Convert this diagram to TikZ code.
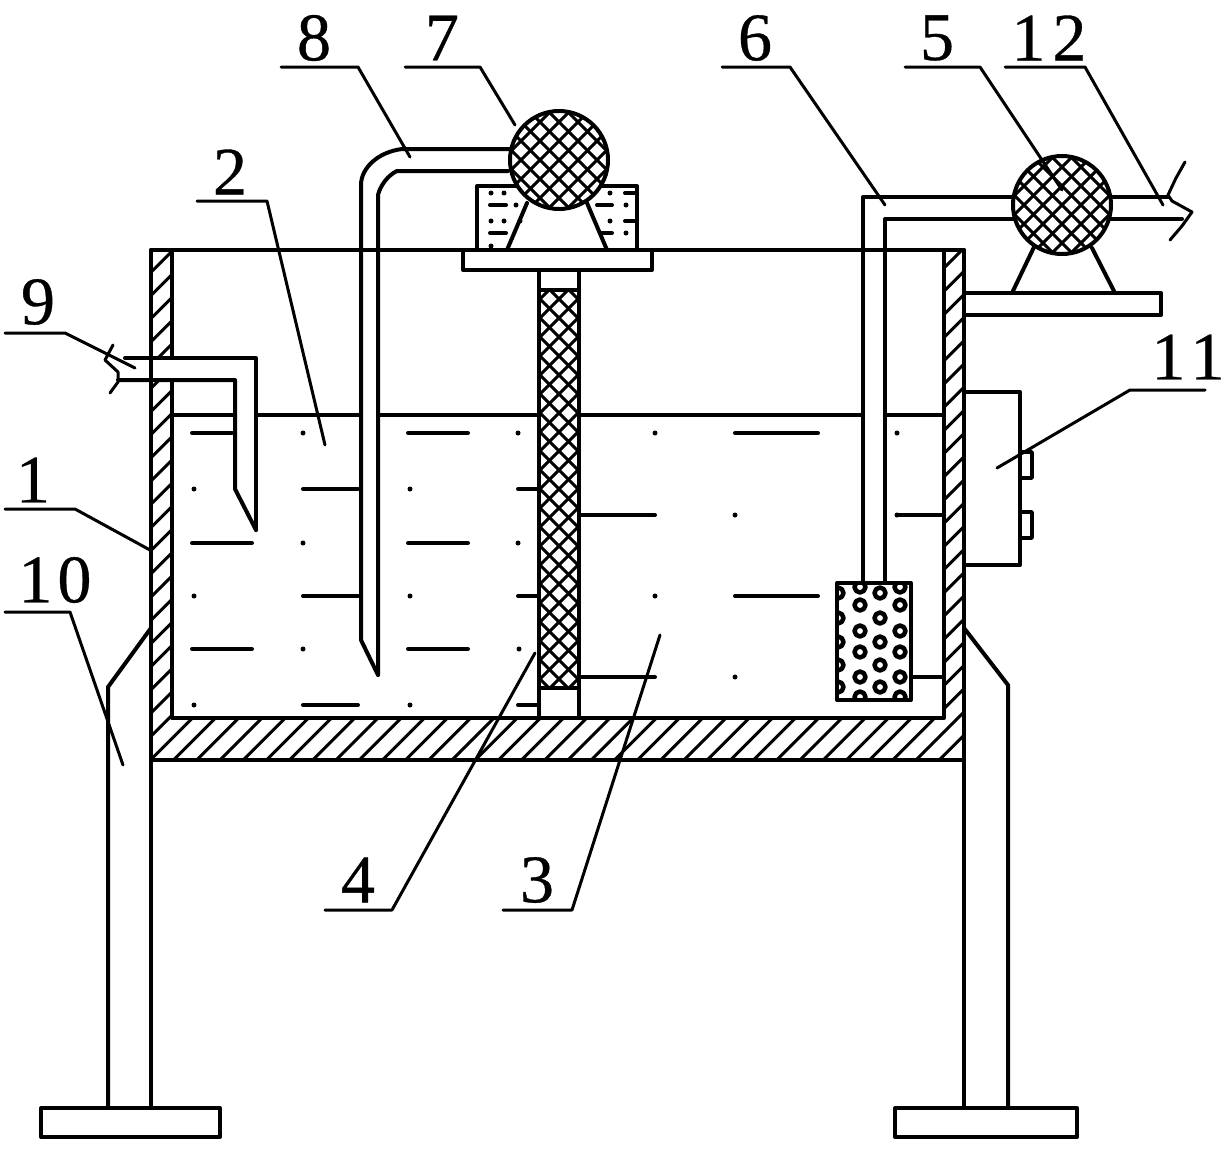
\documentclass[tikz,border=0pt]{standalone}
\usepackage{fontspec}
\setmainfont[FakeBold=0.5]{Liberation Serif}
\newcommand{\meshlines}[3]{%
  \begin{scope}[shift={(#1,#2)},line width=3pt]
    \pgfmathtruncatemacro\meshN{#3/9.5}
    \foreach \k in {-\meshN,...,\meshN}{
      \pgfmathsetmacro\meshC{\k*19}
      \draw ({\meshC-#3},#3) -- ({\meshC+#3},-#3);
      \draw ({\meshC-#3},-#3) -- ({\meshC+#3},#3);
    }
  \end{scope}}
\begin{document}
\begin{tikzpicture}[x=1pt,y=-1pt,line width=4pt,line cap=round,line join=round,
  num/.style={font=\fontsize{68}{68}\selectfont,inner sep=0pt},
  leader/.style={line width=3pt},
  wdash/.style={line width=4pt},
  wdot/.style={fill=black,draw=none},
  thin part/.style={line width=3.5pt}]
\useasboundingbox (0,0) rectangle (1227,1165);
\fill[white] (0,0) rectangle (1227,1165);

% hatched tank wall
\begin{scope}
  \clip (151,250) -- (172,250) -- (172,718) -- (944,718) -- (944,250) -- (964,250) -- (964,760) -- (151,760) -- cycle;
  \foreach \k in {0,...,90}{
    \pgfmathsetmacro\hc{400+\k*23.2}
    \draw[line width=3pt] (\hc,0) -- ({\hc-1165},1165);
  }
\end{scope}
\fill[white] (153,360) rectangle (175,378);

% tank
\draw (151,250) -- (964,250);
\draw (151,250) -- (151,760) -- (964,760) -- (964,250);
\draw (172,250) -- (172,358);
\draw (172,380) -- (172,718) -- (944,718) -- (944,250);

% water line
\draw[line width=3.5pt] (172,415) -- (235,415);
\draw[line width=3.5pt] (257,415) -- (361,415);
\draw[line width=3.5pt] (378,415) -- (539,415);
\draw[line width=3.5pt] (579,415) -- (863,415);
\draw[line width=3.5pt] (885,415) -- (944,415);

% water dashes
\foreach \a/\b/\y in {192/232/433,408/468/433,735/818/433,
  303/358/489,518/538/489,581/655/515,897/944/515,
  192/252/543,408/468/543,303/358/596,518/538/596,735/818/596,
  192/252/649,408/468/649,581/655/677,912/944/677,
  303/358/705,518/538/705}
  \draw[wdash] (\a,\y) -- (\b,\y);
\foreach \x/\y in {303/433,518/433,655/433,897/433,194/489,410/489,735/515,897/515,
  303/543,518/543,194/596,410/596,655/596,897/596,303/649,519/649,735/677,194/705,410/705}
  \fill[wdot] (\x,\y) circle[radius=2.5];

% central column
\begin{scope}
  \clip (539,290) rectangle (579,688);
  \meshlines{559}{489}{220}
\end{scope}
\draw (539,270) -- (539,718);
\draw (579,270) -- (579,718);
\draw (539,290) -- (579,290);
\draw (539,688) -- (579,688);

% platform below pump 7
\draw (463,250) -- (463,270) -- (652,270) -- (652,250);

% blocks below pump 7
\draw (477,250) -- (477,186) -- (637,186) -- (637,250);
\fill[white] (516,180) rectangle (600,248);
\foreach \x/\y in {491/193,504/193,516/205,491/221,504/221,520/221,491/246,610/193,626/205,610/221,626/233}
  \fill[wdot] (\x,\y) circle[radius=2.5];
\foreach \a/\b/\y in {490/506/205,490/506/233,597/612/205,600/612/233,625/637/193,625/637/221}
  \draw[wdash] (\a,\y) -- (\b,\y);
\draw (507,250) -- (527,203);
\draw (607,250) -- (587,203);

% pipe 8
\draw (513,149) -- (402,149) .. controls (378,152) and (361,168) .. (361,185) -- (361,640) -- (378,675);
\draw (508,171) -- (397,171) .. controls (388,175) and (380,186) .. (378,195) -- (378,675);

% pump 7
\fill[white] (559,160) circle[radius=49];
\begin{scope}
  \clip (559,160) circle[radius=49];
  \meshlines{559}{160}{70}
\end{scope}
\draw (559,160) circle[radius=49];

% pipe 6 and pipe 12
\draw (1013,197) -- (863,197) -- (863,582);
\draw (1014,219) -- (885,219) -- (885,582);
\draw (1110,197) -- (1168,197);
\draw (1110,219) -- (1182,219);

% shelf and pump 5
\draw (964,293) -- (1161,293) -- (1161,315) -- (964,315);
\draw (1012,293) -- (1035,245);
\draw (1115,293) -- (1092,248);
\fill[white] (1062,205) circle[radius=49];
\begin{scope}
  \clip (1062,205) circle[radius=49];
  \meshlines{1062}{205}{70}
\end{scope}
\draw (1062,205) circle[radius=49];

% break line 12
\draw[leader] (1185,162) -- (1176,178) -- (1168,195) -- (1172,201) -- (1192,212) -- (1182,226) -- (1170,240);

% pipe 9
\draw (125,358) -- (256,358) -- (256,530);
\draw (118,380) -- (235,380) -- (235,489) -- (256,530);
\draw[leader] (113,345) -- (105,360) -- (118,372) -- (118,382) -- (110,393);

% filter
\fill[white] (837,583) rectangle (911,700);
\begin{scope}
  \clip (837,583) rectangle (911,700);
  \foreach \x/\y in {860/605,860/631,860/652,860/677,860/587,860/697,
                     900/605,900/631,900/652,900/677,900/587,900/697,
                     880/593,880/618,880/642,880/665,880/687,
                     838/593,838/618,838/642,838/665,838/687}
    \draw[line width=4.5pt] (\x,\y) circle[radius=5.5];
\end{scope}
\draw (837,583) rectangle (911,700);

% control box 11
\draw (964,392) -- (1020,392) -- (1020,565) -- (964,565);
\draw[thin part] (1020,452) -- (1032,452) -- (1032,478) -- (1020,478);
\draw[thin part] (1020,512) -- (1032,512) -- (1032,538) -- (1020,538);

% legs
\draw (151,628) -- (108,687) -- (108,1108);
\draw (151,760) -- (151,1108);
\draw (41,1108) rectangle (220,1137);
\draw (964,628) -- (1008,685) -- (1008,1108);
\draw (964,760) -- (964,1108);
\draw (895,1108) rectangle (1077,1137);

% labels
\node[num] (n8) at (314,38) {8};
\node[num] (n7) at (442,38) {7};
\node[num] (n6) at (755,38) {6};
\node[num] (n5) at (937,38) {5};
\node[num] (n12) at (1049,38) {1\kern7pt 2};
\node[num] (n2) at (230,172) {2};
\node[num] (n9) at (38,302) {9};
\node[num] (n1) at (33,480) {1};
\node[num] (n10) at (55,580) {1\kern5pt 0};
\node[num] (n11) at (1188,357) {1\kern5pt 1};
\node[num] (n4) at (358,880) {4};
\node[num] (n3) at (537,880) {3};

% leaders
\draw[leader] (281,67) -- (358,67) -- (410,157);
\draw[leader] (405,67) -- (480,67) -- (515,125);
\draw[leader] (722,67) -- (790,67) -- (885,205);
\draw[leader] (905,67) -- (980,67) -- (1062,190);
\draw[leader] (1005,67) -- (1085,67) -- (1163,205);
\draw[leader] (197,201) -- (267,201) -- (325,445);
\draw[leader] (5,333) -- (65,333) -- (135,368);
\draw[leader] (5,509) -- (75,509) -- (150,550);
\draw[leader] (5,612) -- (70,612) -- (123,765);
\draw[leader] (1205,390) -- (1130,390) -- (997,468);
\draw[leader] (325,910) -- (392,910) -- (535,653);
\draw[leader] (503,910) -- (572,910) -- (660,635);
\end{tikzpicture}
\end{document}
